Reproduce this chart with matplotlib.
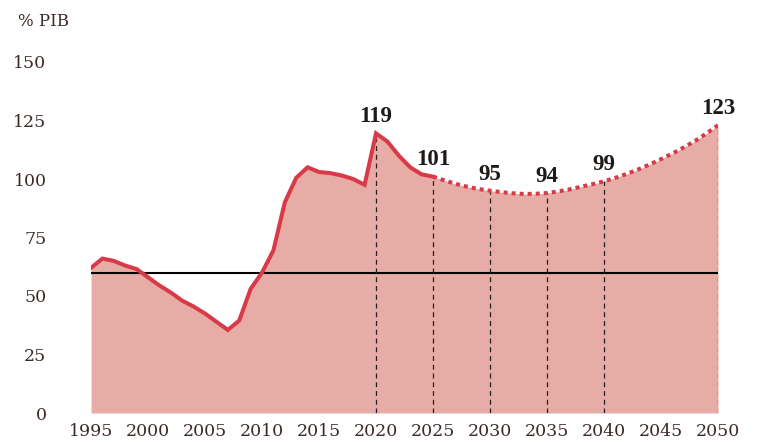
import matplotlib.pyplot as plt
import numpy as np

# deuda pública, % del PIB
anos_hist = list(range(1995, 2026))
deuda_hist = [62, 66, 65, 63, 61.5, 58, 54.5, 51.5, 48, 45.5, 42.5, 39, 35.5,
              39.5, 53, 60, 69.5, 90, 100.5, 105, 103, 102.5, 101.5, 100, 97.5,
              119.5, 116, 110, 105, 102, 101]

anos_proy = list(range(2025, 2051))
deuda_proy = [101, 99.4, 97.9, 96.7, 95.7, 95, 94.4, 93.9, 93.6, 93.7, 94,
              94.7, 95.6, 96.7, 97.8, 99, 100.5, 102.2, 104.1, 106.2, 108.5,
              110.9, 113.5, 116.3, 119.5, 123]

anos_etiq = [2020, 2025, 2030, 2035, 2040, 2050]
etiquetas = ['119', '101', '95', '94', '99', '123']

limite = 60

rojo = '#d83a48'
relleno = '#e8aca6'
texto = '#3b2b28'

plt.rcParams['font.family'] = ['DejaVu Serif']

fig = plt.figure(figsize=(7.59, 4.42), dpi=100)
ax = fig.add_axes([91/759, 29/442, 627/759, 351/442])

x_all = anos_hist + anos_proy[1:]
y_all = deuda_hist + deuda_proy[1:]
ax.fill_between(x_all, 0, y_all, color=relleno, lw=0, zorder=1)

ax.plot([anos_hist[0], anos_proy[-1]], [limite, limite], color='black', lw=1.5, zorder=2)

valores = dict(zip(x_all, y_all))
for a in anos_etiq:
    ax.plot([a, a], [0, valores[a]], color='#222222', lw=0.9, dashes=(4, 3), zorder=2)

ax.plot(anos_hist, deuda_hist, color=rojo, lw=2.9, solid_joinstyle='miter', zorder=3)
ax.plot(anos_proy, deuda_proy, color=rojo, lw=2.9, dashes=(1, 1), zorder=3)

for a, t in zip(anos_etiq, etiquetas):
    ax.annotate(t, (a, valores[a]), xytext=(0, 12), textcoords='offset points',
                ha='center', va='center', fontsize=16.5, fontweight='bold',
                color='#1e1a18', family=['Liberation Serif', 'DejaVu Serif'])

ax.set_xlim(1995, 2050)
ax.set_ylim(0, 150)
ax.set_xticks(range(1995, 2051, 5))
ax.set_yticks(range(0, 151, 25))
ax.tick_params(length=0, labelsize=12.5, labelcolor=texto)
ax.tick_params(axis='y', pad=32)
ax.tick_params(axis='x', pad=7)
for lab in ax.get_yticklabels():
    lab.set_horizontalalignment('right')
for s in ax.spines.values():
    s.set_visible(False)

fig.text(18/759, 1 - 22/442, '% PIB', fontsize=12, color=texto, va='center', ha='left')

fig.savefig('out.png', dpi=100)
